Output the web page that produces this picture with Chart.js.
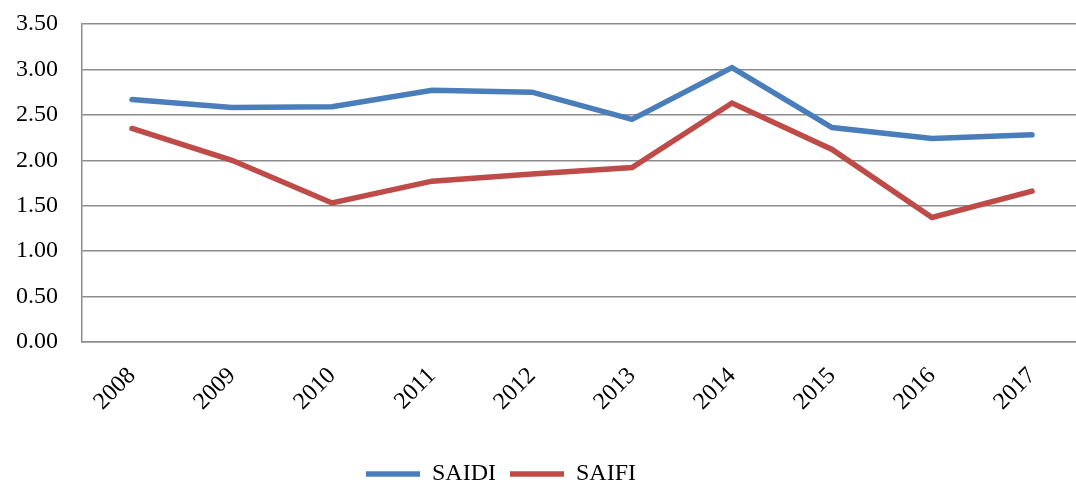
<!DOCTYPE html>
<html lang="en">

<head>
    <meta charset="UTF-8">
    <title>SAIDI / SAIFI</title>
    <script src="https://cdn.jsdelivr.net/npm/chart.js"></script>
    <style>
        body {
            margin: 0;
            padding: 0;
            background: #fff;
            overflow: hidden;
        }

        /* the reference is cut off on its right and bottom edges, so the chart is a bit bigger than the window */
        .wrap {
            width: 1090px;
            height: 496px;
        }
    </style>
</head>

<body>
    <div class="wrap"><canvas id="chart"></canvas></div>

    <script>
        const years = ['2008', '2009', '2010', '2011', '2012', '2013', '2014', '2015', '2016', '2017'];
        const saidi = [2.67, 2.58, 2.59, 2.77, 2.75, 2.45, 3.02, 2.36, 2.24, 2.28];
        const saifi = [2.35, 2.00, 1.53, 1.77, 1.85, 1.92, 2.63, 2.12, 1.37, 1.66];

        const serif = '"Liberation Serif", "Times New Roman", serif';
        const gridColor = '#8c8c8c';

        // legend sits left of centre in the original
        const shiftLegend = {
            id: 'shiftLegend',
            afterLayout(chart) {
                chart.legend.left -= 40;
                chart.legend.right -= 40;
            }
        };

        const ctx = document.getElementById('chart').getContext('2d');
        const chart = new Chart(ctx, {
            type: 'line',
            data: {
                labels: years,
                datasets: [
                    {
                        label: 'SAIDI',
                        data: saidi,
                        borderColor: '#4a7ebb',
                        backgroundColor: '#4a7ebb',
                        borderWidth: 5.5,
                        borderCapStyle: 'round',
                        pointRadius: 0,
                        tension: 0,
                    },
                    {
                        label: 'SAIFI',
                        data: saifi,
                        borderColor: '#be4b48',
                        backgroundColor: '#be4b48',
                        borderWidth: 5.5,
                        borderCapStyle: 'round',
                        pointRadius: 0,
                        tension: 0,
                    }
                ]
            },
            options: {
                responsive: true,
                maintainAspectRatio: false,
                animation: false,
                layout: { padding: { top: 24, right: 8, left: 0, bottom: 0 } },
                plugins: {
                    tooltip: { enabled: false },
                    legend: {
                        position: 'bottom',
                        labels: {
                            usePointStyle: true,
                            pointStyle: 'line',
                            pointStyleWidth: 54,
                            padding: 14,
                            color: '#000',
                            font: { family: serif, size: 24 }
                        }
                    }
                },
                scales: {
                    x: {
                        offset: true,
                        grid: { display: false, drawTicks: false },
                        border: { display: true, color: gridColor, width: 1.5 },
                        ticks: {
                            color: '#000',
                            font: { family: serif, size: 24 },
                            minRotation: 45,
                            maxRotation: 45,
                            autoSkip: false,
                            padding: 20
                        },
                        afterFit: (scale) => { scale.height = 106; }
                    },
                    y: {
                        min: 0,
                        max: 3.5,
                        // invisible tick marks make the gap between labels and axis
                        grid: { color: gridColor, lineWidth: 1.5, drawTicks: true, tickLength: 24, tickColor: 'rgba(0,0,0,0)' },
                        border: { display: true, color: gridColor, width: 1.5 },
                        ticks: {
                            stepSize: 0.5,
                            color: '#000',
                            font: { family: serif, size: 24 },
                            padding: 0,
                            callback: (v) => v.toFixed(2)
                        },
                        afterFit: (scale) => { scale.width = 82; }
                    }
                }
            },
            plugins: [shiftLegend]
        });
    </script>
</body>

</html>
